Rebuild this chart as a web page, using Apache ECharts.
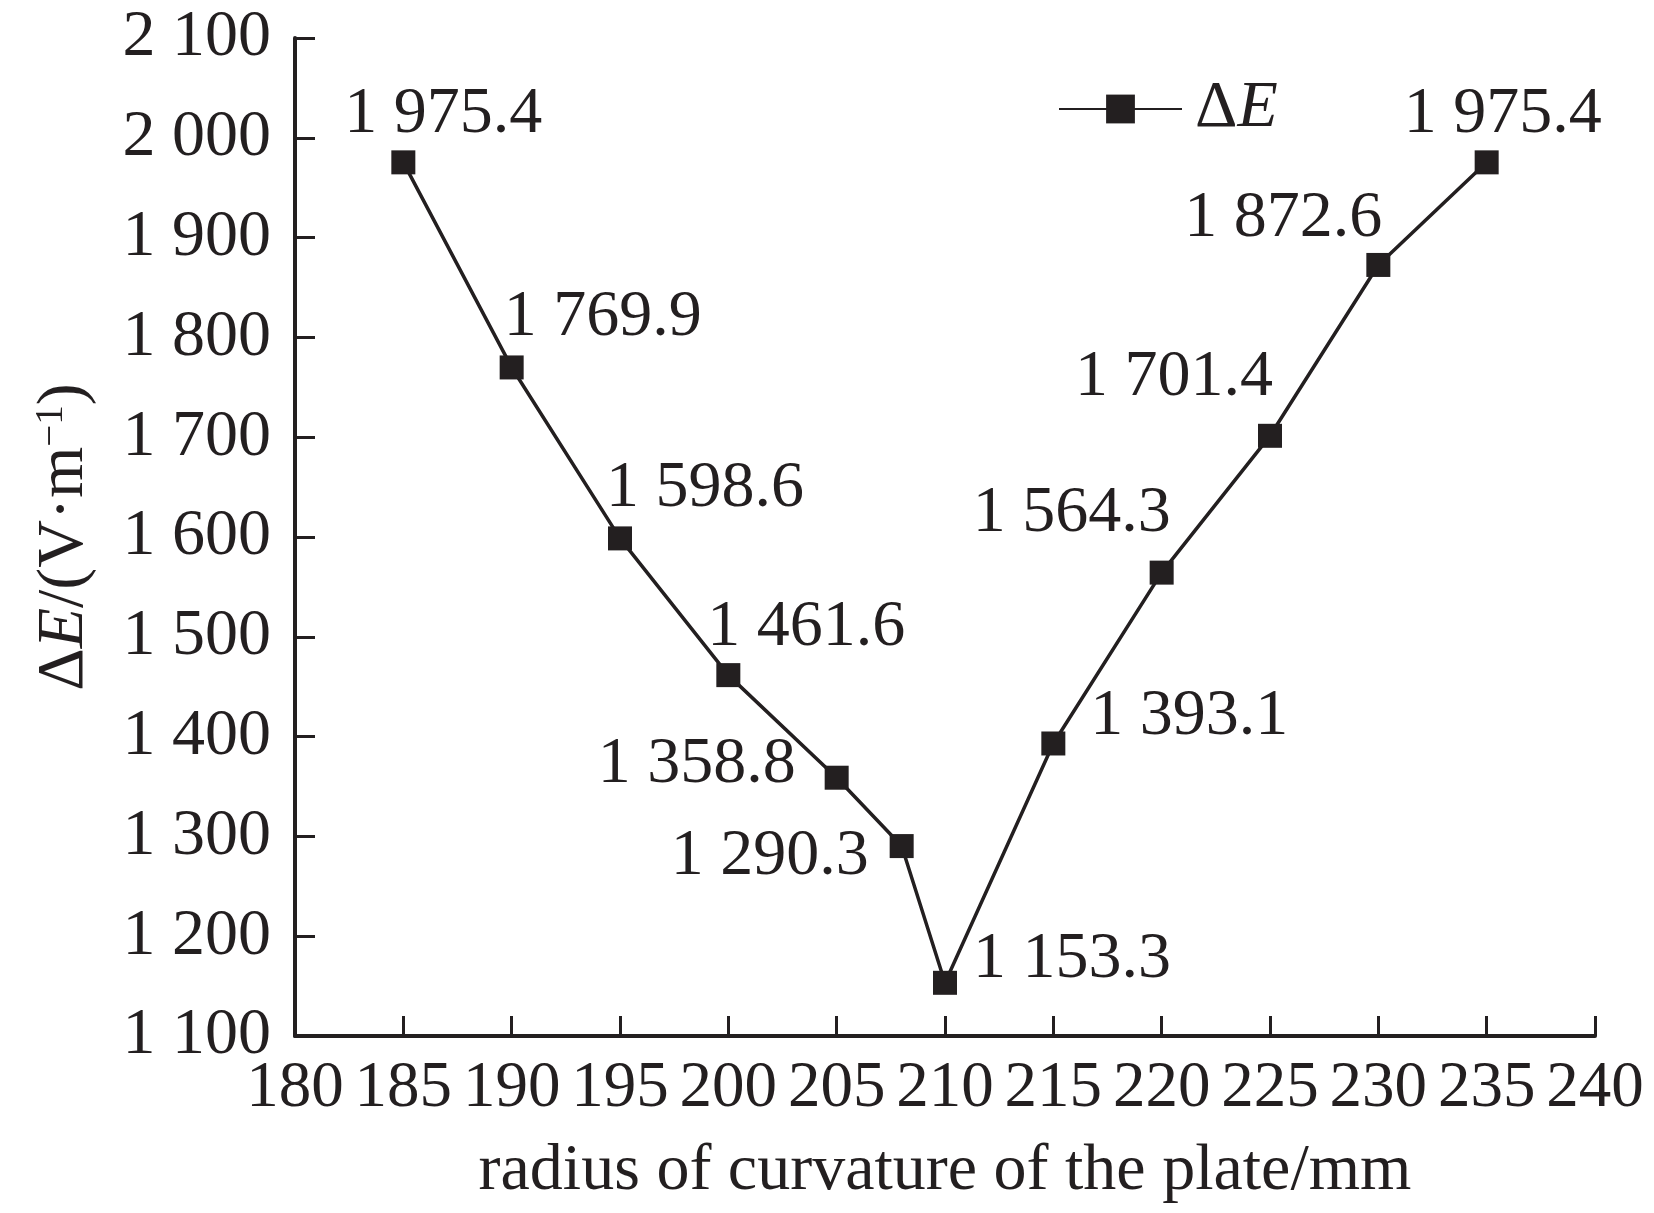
<!DOCTYPE html>
<html>
<head>
<meta charset="utf-8">
<script src="https://cdn.jsdelivr.net/npm/echarts@6/dist/echarts.min.js"></script>
<style>
html,body{margin:0;padding:0;background:#fff;}
#chart{width:1654px;height:1213px;}
</style>
</head>
<body>
<div id="chart"></div>
<script>
// Data
var radius = [185, 190, 195, 200, 205, 208, 210, 215, 220, 225, 230, 235];
var deltaE = [1975.4, 1769.9, 1598.6, 1461.6, 1358.8, 1290.3, 1153.3, 1393.1, 1564.3, 1701.4, 1872.6, 1975.4];
var xTicks = { min: 180, max: 240, step: 5 };
var yTicks = { min: 1100, max: 2100, step: 100 };

// Label placement (style only)
var labelOffsets = [
  [40, -48], [91, -50], [85, -50], [78, -47], [-140, -13], [-132, 11],
  [127, -23], [136, -27], [-90, -59], [-96, -58], [-95, -46], [16, -48]
];

var INK = '#231f20';
var FONT = '"Liberation Serif", "Times New Roman", serif';

function spaced(v, decimals) {
  var s = decimals ? v.toFixed(decimals) : String(v);
  var parts = s.split('.');
  var ip = parts[0].replace(/\B(?=(\d{3})+(?!\d))/g, ' ');
  return parts.length > 1 ? ip + '.' + parts[1] : ip;
}

var chart = echarts.init(document.getElementById('chart'), null, { renderer: 'canvas' });

var seriesData = radius.map(function (x, i) {
  return {
    value: [x, deltaE[i]],
    label: { offset: labelOffsets[i] }
  };
});

chart.setOption({
  animation: false,
  backgroundColor: '#fff',
  grid: { left: 295, right: 59, top: 38, bottom: 177, containLabel: false, outerBoundsMode: 'none' },
  legend: {
    left: 1058,
    top: 76,
    padding: 0,
    itemWidth: 123,
    itemHeight: 36,
    itemGap: 10,
    data: ['ΔE'],
    formatter: function () { return '{a|Δ}{i|E}'; },
    textStyle: {
      color: INK,
      fontFamily: FONT,
      fontSize: 66,
      padding: [0, 0, 0, 8],
      rich: {
        a: { fontFamily: FONT, fontSize: 66, color: INK },
        i: { fontFamily: FONT, fontSize: 66, fontStyle: 'italic', color: INK }
      }
    }
  },
  xAxis: {
    type: 'value',
    min: xTicks.min,
    max: xTicks.max,
    interval: xTicks.step,
    name: 'radius of curvature of the plate/mm',
    nameLocation: 'middle',
    nameGap: 103,
    nameTextStyle: { fontFamily: FONT, fontSize: 66, color: INK },
    axisLine: { show: true, lineStyle: { color: INK, width: 4 } },
    axisTick: { show: true, inside: true, length: 20, lineStyle: { color: INK, width: 3 } },
    axisLabel: { fontFamily: FONT, fontSize: 65, color: INK, margin: 20 },
    splitLine: { show: false }
  },
  yAxis: {
    type: 'value',
    min: yTicks.min,
    max: yTicks.max,
    interval: yTicks.step,
    name: '{a|Δ}{i|E}{a|/(V·m}{s|−1}{a|)}',
    nameLocation: 'middle',
    nameRotate: 90,
    nameGap: 197,
    nameTextStyle: {
      fontFamily: FONT, fontSize: 66, color: INK,
      rich: {
        a: { fontFamily: FONT, fontSize: 66, color: INK },
        i: { fontFamily: FONT, fontSize: 66, fontStyle: 'italic', color: INK },
        s: { fontFamily: FONT, fontSize: 39, color: INK, verticalAlign: 'top' }
      }
    },
    axisLine: { show: true, lineStyle: { color: INK, width: 4 } },
    axisTick: { show: true, inside: true, length: 20, lineStyle: { color: INK, width: 3 } },
    axisLabel: {
      fontFamily: FONT, fontSize: 66, color: INK, margin: 24,
      formatter: function (v) { return spaced(v); }
    },
    splitLine: { show: false }
  },
  series: [{
    name: 'ΔE',
    type: 'line',
    data: seriesData,
    symbol: 'rect',
    symbolSize: 24,
    showAllSymbol: true,
    itemStyle: { color: INK },
    lineStyle: { color: INK, width: 3.5 },
    label: {
      show: true,
      position: 'inside',
      fontFamily: FONT,
      fontSize: 66,
      color: INK,
      formatter: function (p) { return spaced(p.value[1], 1); }
    }
  }]
});
</script>
</body>
</html>
